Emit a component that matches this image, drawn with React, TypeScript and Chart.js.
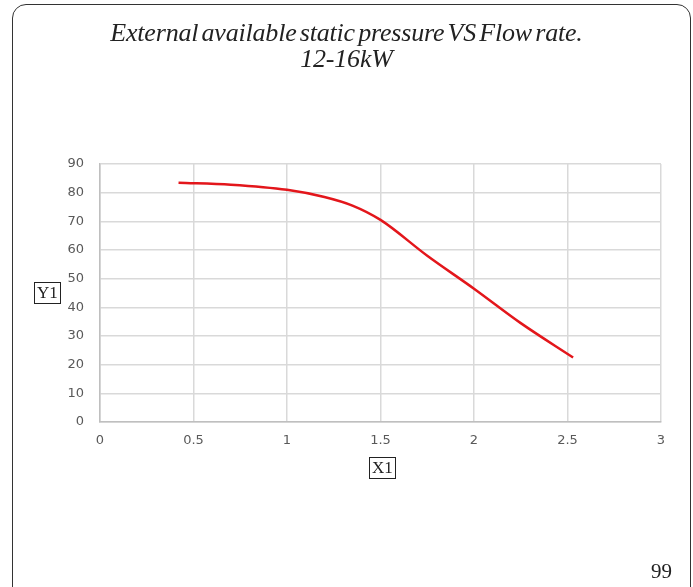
import React, { useEffect, useRef } from "react";
import { Chart, registerables } from "chart.js";

Chart.register(...registerables);

const flowRate = [0.42, 0.7, 1.0, 1.2, 1.35, 1.5, 1.75, 2.0, 2.25, 2.53];
const pressure = [83.5, 82.8, 81, 78.5, 75.5, 70.5, 58, 46.5, 34.5, 22.5];
const xTicks = [0, 0.5, 1, 1.5, 2, 2.5, 3];
const yTicks = [0, 10, 20, 30, 40, 50, 60, 70, 80, 90];
const titleLine1 = "External available static pressure VS Flow rate.";
const titleLine2 = "12-16kW";
const xLabel = "X1";
const yLabel = "Y1";
const pageNumber = "99";

export default function App() {
  const ref = useRef<HTMLCanvasElement | null>(null);

  useEffect(() => {
    if (!ref.current) return;
    const chart = new Chart(ref.current, {
      type: "line",
      data: {
        datasets: [
          {
            data: flowRate.map((x, i) => ({ x, y: pressure[i] })),
            borderColor: "#e3161b",
            borderWidth: 2.5,
            pointRadius: 0,
            cubicInterpolationMode: "monotone",
            fill: false,
          },
        ],
      },
      options: {
        animation: false,
        responsive: false,
        maintainAspectRatio: false,
        layout: { padding: { left: 40, right: 32, top: 164, bottom: 100 } },
        plugins: { legend: { display: false }, tooltip: { enabled: false }, title: { display: false } },
        scales: {
          x: {
            type: "linear",
            min: 0,
            max: 3,
            afterBuildTicks: (s: any) => {
              s.ticks = xTicks.map((v) => ({ value: v }));
            },
            afterFit: (s: any) => {
              s.height = 587 - 100 - 422;
            },
            grid: { color: "#d9d9d9", lineWidth: 1.5, drawTicks: false },
            border: { color: "#bfbfbf", width: 1.5 },
            ticks: {
              color: "#595959",
              font: { family: "DejaVu Sans", size: 13 },
              padding: 11,
              callback: (v: any) => String(v),
            },
          },
          y: {
            type: "linear",
            min: 0,
            max: 90,
            afterBuildTicks: (s: any) => {
              s.ticks = yTicks.map((v) => ({ value: v }));
            },
            afterFit: (s: any) => {
              s.width = 60;
            },
            grid: { color: "#d9d9d9", lineWidth: 1.5, drawTicks: false },
            border: { color: "#bfbfbf", width: 1.5 },
            ticks: {
              color: "#595959",
              font: { family: "DejaVu Sans", size: 13 },
              padding: 16,
            },
          },
        },
      },
    });
    return () => chart.destroy();
  }, []);

  const serif = "'Liberation Serif', 'DejaVu Serif', serif";

  return (
    <div style={{ position: "fixed", left: 0, top: 0, width: 693, height: 587, overflow: "hidden", background: "#fff" }}>
      <div
        style={{
          position: "absolute",
          left: 12,
          top: 4,
          width: 679,
          height: 600,
          border: "1.5px solid #333",
          borderRadius: 14,
          boxSizing: "border-box",
        }}
      />
      <canvas ref={ref} width={693} height={587} style={{ position: "absolute", left: 0, top: 0 }} />
      <div
        style={{
          position: "absolute",
          left: 0,
          width: 693,
          top: 20,
          textAlign: "center",
          fontFamily: serif,
          fontStyle: "italic",
          fontSize: 26,
          lineHeight: "26px",
          color: "#222",
          letterSpacing: -0.2,
          wordSpacing: -3,
        }}
      >
        <div>{titleLine1}</div>
        <div>{titleLine2}</div>
      </div>
      <div
        style={{
          position: "absolute",
          left: 34,
          top: 282,
          border: "1px solid #222",
          fontFamily: serif,
          fontSize: 17,
          lineHeight: "20px",
          padding: "0 2px",
          color: "#222",
        }}
      >
        {yLabel}
      </div>
      <div
        style={{
          position: "absolute",
          left: 369,
          top: 457,
          border: "1px solid #222",
          fontFamily: serif,
          fontSize: 17,
          lineHeight: "20px",
          padding: "0 2px",
          color: "#222",
        }}
      >
        {xLabel}
      </div>
      <div
        style={{
          position: "absolute",
          left: 651,
          top: 559,
          fontFamily: serif,
          fontSize: 21,
          lineHeight: "24px",
          color: "#222",
        }}
      >
        {pageNumber}
      </div>
    </div>
  );
}
